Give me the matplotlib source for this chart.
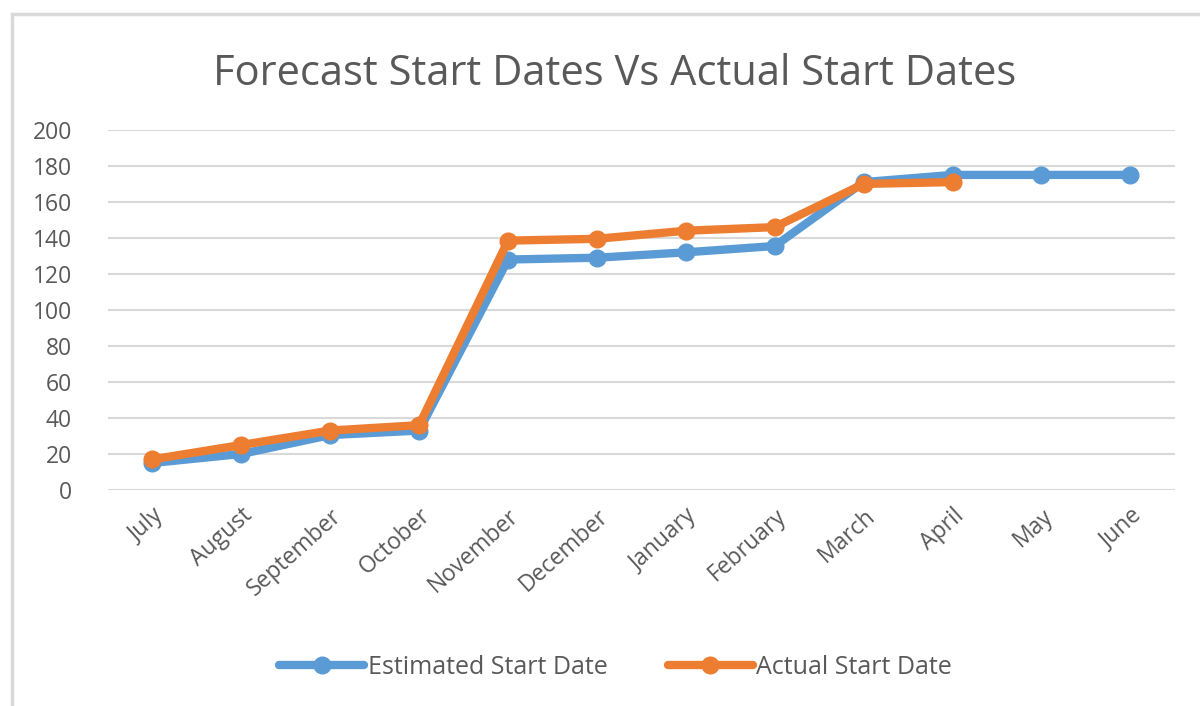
import matplotlib.pyplot as plt
from matplotlib.patches import Rectangle

# data
months = ["July", "August", "September", "October", "November", "December",
          "January", "February", "March", "April", "May", "June"]
estimated = [15, 20, 30.5, 33, 128, 129, 132, 135.5, 171, 175, 175, 175]
actual = [17, 25, 33, 36, 138.5, 139.5, 144, 146, 170, 171]

blue = "#5B9BD5"
orange = "#ED7D31"
grey_txt = "#595959"

plt.rcParams['font.family'] = ['Open Sans', 'DejaVu Sans']

fig = plt.figure(figsize=(12, 7.06), dpi=100)
ax = fig.add_axes([0.09, 0.306, 0.889, 0.51])

# chart frame like the spreadsheet export
fig.patches.append(Rectangle((12 / 1200, -0.05), 1.2, 1 - 14 / 706 + 0.05,
                             transform=fig.transFigure, fill=False,
                             edgecolor="#D9D9D9", linewidth=2.5))

x = list(range(len(months)))
ax.plot(x, estimated, color=blue, lw=6, marker="o", ms=12,
        solid_capstyle="round", label="Estimated Start Date", zorder=3)
ax.plot(x[:len(actual)], actual, color=orange, lw=6, marker="o", ms=12,
        solid_capstyle="round", label="Actual Start Date", zorder=4)

ax.set_xlim(-0.5, len(months) - 0.5)
ax.set_ylim(0, 200)
ax.set_yticks(range(0, 201, 20))
ax.grid(axis="y", color="#D9D9D9", lw=1.5)
ax.set_axisbelow(True)
for s in ax.spines.values():
    s.set_visible(False)
ax.tick_params(length=0)
ax.tick_params(axis="y", labelsize=16.5, labelcolor=grey_txt, pad=26)
ax.set_xticks(x)
ax.set_xticklabels(months, rotation=42, ha="right", va="top",
                   rotation_mode="anchor", fontsize=16.5, color=grey_txt)
ax.tick_params(axis="x", pad=10)

fig.suptitle("Forecast Start Dates Vs Actual Start Dates", x=0.512, y=0.925,
             fontsize=30, color=grey_txt)

fig.legend(loc="center", bbox_to_anchor=(0.513, 0.055), ncol=2, frameon=False,
           handlelength=3.4, handletextpad=0.15, columnspacing=2.4,
           prop={'family': ['Liberation Sans Narrow', 'Open Sans', 'DejaVu Sans'], 'size': 18},
           labelcolor=grey_txt)

fig.savefig("out.png", dpi=100)
